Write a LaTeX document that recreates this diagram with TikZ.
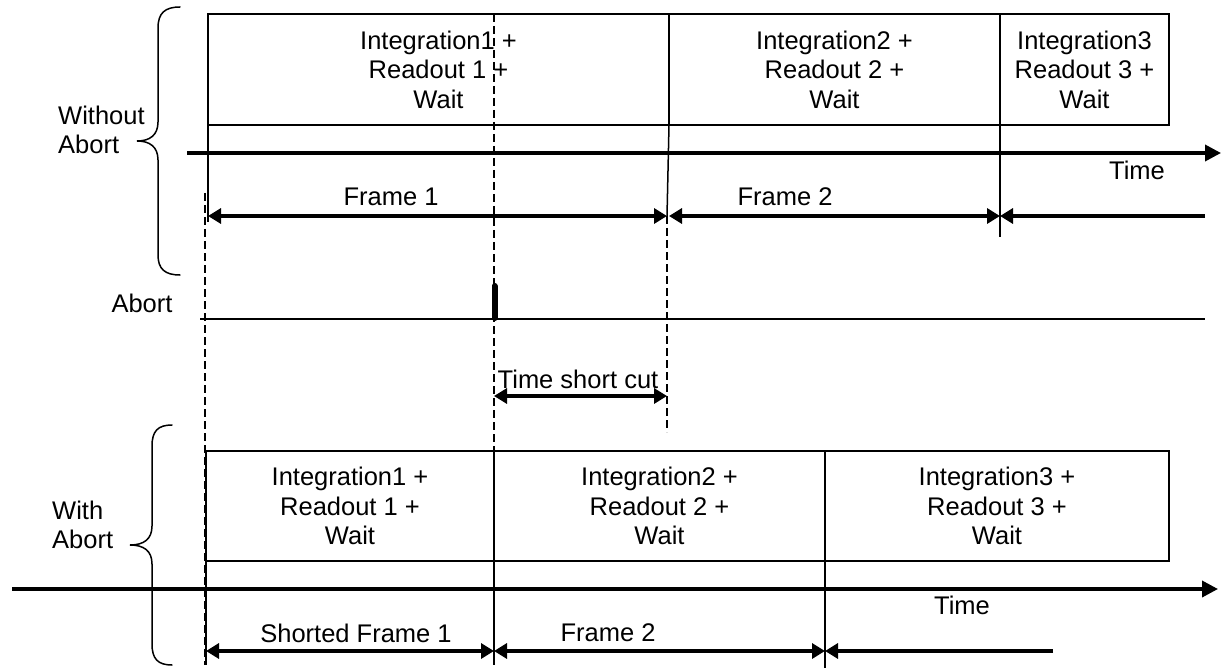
\documentclass[tikz,border=0pt]{standalone}
\usepackage{fontspec}
\setmainfont{Liberation Sans}
\usetikzlibrary{arrows.meta}
\begin{document}
\begin{tikzpicture}[x=1pt,y=-1pt,
  txt/.style={font=\fontsize{25.5}{29.5}\selectfont, inner sep=0pt, align=center},
  boxnode/.style={draw, line width=1.5pt, inner sep=0pt, align=center,
    font=\fontsize{25.5}{29.5}\selectfont},
  thin/.style={line width=1.5pt},
  dashline/.style={line width=2.6pt, dash pattern=on 8pt off 4pt},
  axis/.style={line width=3.6pt, -{Triangle[length=16pt,width=16pt]}},
  dimboth/.style={line width=3.6pt, {Triangle[length=13pt,width=15pt]}-{Triangle[length=13pt,width=15pt]}},
  dimone/.style={line width=3.6pt, -{Triangle[length=13pt,width=15pt]}},
  bracestyle/.style={line width=1.5pt, line cap=round},
  pulse/.style={line width=6pt, line cap=round}
]
\useasboundingbox (0,0) rectangle (1230,668);

% ---------- Without Abort ----------
\node[boxnode, minimum width=461pt, minimum height=111pt] (t1) at (438.5,69.5)
  {Integration1 +\\Readout 1 +\\Wait};
\node[boxnode, minimum width=331pt, minimum height=111pt] (t2) at (834.5,69.5)
  {Integration2 +\\Readout 2 +\\Wait};
\node[boxnode, minimum width=169pt, minimum height=111pt] (t3) at (1084.5,69.5)
  {Integration3\\Readout 3 +\\Wait};

\coordinate (tl0) at (208,14);
\coordinate (tl1) at (208,222);
\draw[thin] (tl0) -- (tl1);
\coordinate (d1a) at (669,125);
\coordinate (d1b) at (667,216);
\coordinate (d1c) at (667,432);
\draw[thin] (d1a) -- (d1b);
\draw[dashline] (d1b) -- (d1c);
\coordinate (d2a) at (1000,125);
\coordinate (d2b) at (1000,237);
\draw[thin] (d2a) -- (d2b);

\coordinate (ax1s) at (187,153);
\coordinate (ax1e) at (1221,153);
\draw[axis] (ax1s) -- (ax1e);
\node[txt] (time1) at (1137,170) {Time};

\coordinate (f1a) at (208,216);
\coordinate (f1b) at (667,216);
\coordinate (f2a) at (669,216);
\coordinate (f2b) at (1000,216);
\coordinate (f3e) at (1205,216);
\draw[dimboth] (f1a) -- (f1b);
\draw[dimboth] (f2a) -- (f2b);
\draw[dimone] (f3e) -- (f2b);
\node[txt] (fr1) at (391,197) {Frame 1};
\node[txt] (fr2) at (785,197) {Frame 2};

% brace top
\draw[bracestyle] (180,7) .. controls (165,7) and (158,13) .. (158,28)
  -- (158,122) .. controls (158,135) and (150,141) .. (137,141)
  .. controls (150,141) and (158,147) .. (158,160)
  -- (158,255) .. controls (158,269) and (165,275) .. (180,275);
\node[txt, anchor=west, align=left] (wo) at (58,130) {Without\\Abort};

% ---------- Abort ----------
\node[txt] (abl) at (142,303) {Abort};
\coordinate (abs) at (200,319);
\coordinate (abe) at (1205,319);
\draw[line width=1.8pt] (abs) -- (abe);
\coordinate (pt) at (494.5,286);
\coordinate (pb) at (494.5,318);
\draw[pulse] (pt) -- (pb);

% dashed verticals
\coordinate (da) at (494,14);
\coordinate (db) at (494,451);
\draw[dashline] (da) -- (db);
\coordinate (dl0) at (205,193);
\coordinate (dl1) at (205,665);
\draw[dashline] (dl0) -- (dl1);

% time short cut
\coordinate (sc1) at (494,396);
\coordinate (sc2) at (667,396);
\draw[dimboth] (sc1) -- (sc2);
\node[txt] (scl) at (578,379) {Time short cut};

% ---------- With Abort ----------
\node[boxnode, minimum width=288pt, minimum height=110pt] (b1) at (350,506)
  {Integration1 +\\Readout 1 +\\Wait};
\node[boxnode, minimum width=331pt, minimum height=110pt] (b2) at (659.5,506)
  {Integration2 +\\Readout 2 +\\Wait};
\node[boxnode, minimum width=344pt, minimum height=110pt] (b3) at (997,506)
  {Integration3 +\\Readout 3 +\\Wait};

\coordinate (bl0) at (206,561);
\coordinate (bl1) at (206,665);
\draw[thin] (bl0) -- (bl1);
\coordinate (bd1a) at (494,561);
\coordinate (bd1b) at (494,665);
\draw[thin] (bd1a) -- (bd1b);
\coordinate (bd2a) at (825,561);
\coordinate (bd2b) at (825,668);
\draw[thin] (bd2a) -- (bd2b);

\coordinate (ax2s) at (12,589);
\coordinate (ax2e) at (1218,589);
\draw[axis] (ax2s) -- (ax2e);
\node[txt] (time2) at (962,605) {Time};

\coordinate (g1a) at (206,651);
\coordinate (g1b) at (494,651);
\coordinate (g2b) at (825,651);
\coordinate (g3e) at (1053,651);
\draw[dimboth] (g1a) -- (g1b);
\draw[dimboth] (g1b) -- (g2b);
\draw[dimone] (g3e) -- (g2b);
\node[txt] (sf1) at (356,633) {Shorted Frame 1};
\node[txt] (bf2) at (608,633) {Frame 2};

% brace bottom
\draw[bracestyle] (172,425) .. controls (158,425) and (152,431) .. (152,446)
  -- (152,526) .. controls (152,539) and (144,545) .. (130,545)
  .. controls (144,545) and (152,551) .. (152,564)
  -- (152,644) .. controls (152,659) and (158,665) .. (172,665);
\node[txt, anchor=west, align=left] (wa) at (52,525) {With\\Abort};
\end{tikzpicture}
\end{document}
